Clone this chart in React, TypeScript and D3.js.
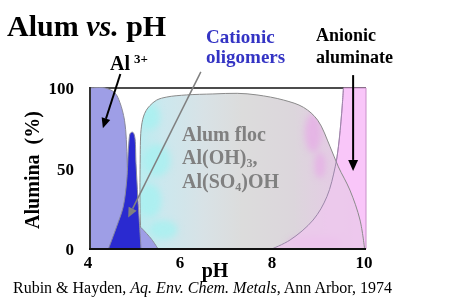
import React from "react";
import * as d3 from "d3";

// ---- data (pH, % alumina) ----
const al3Edge: [number, number][] = [
  [4.0, 100], [4.33, 100], [4.54, 97], [4.65, 91], [4.75, 80], [4.79, 68],
  [4.81, 53], [4.83, 37], [4.87, 24], [4.98, 17], [5.12, 13], [5.34, 6], [5.48, 0],
];
const cationicEdge: [number, number][] = [
  [4.40, 0], [4.58, 14], [4.72, 26], [4.80, 43], [4.84, 64], [4.88, 72],
  [4.93, 72.5], [4.97, 70], [5.0, 53], [5.04, 32], [5.07, 18], [5.11, 0],
];
const flocEdge: [number, number][] = [
  [5.13, 0], [5.11, 8], [5.09, 22], [5.09, 53], [5.11, 74], [5.16, 82],
  [5.22, 86], [5.30, 89], [5.45, 92.5], [5.67, 94.4], [6.10, 95.7],
  [6.67, 96.3], [7.20, 96.7], [7.63, 95.7], [8.21, 92.5], [8.64, 88],
  [8.95, 80], [9.22, 63.5], [9.40, 51], [9.65, 36.6], [9.87, 18], [9.97, 0],
];
const anionicEdge: [number, number][] = [
  [7.95, 0], [8.35, 5.6], [8.85, 18], [9.15, 32.5], [9.33, 51], [9.40, 63.5],
  [9.47, 84], [9.51, 100],
];
// texture blobs inside the floc: [pH, pct, rx(pH), ry(pct)]
const cyanBlobs = [[5.3, 82, 0.22, 8], [5.45, 55, 0.3, 10], [5.3, 30, 0.25, 10], [5.6, 12, 0.3, 6]];
const pinkBlobs = [[8.85, 72, 0.18, 12], [9.0, 52, 0.12, 8], [8.9, 4, 0.6, 4]];
const xTicks = [4, 6, 8, 10];
const yTicks = [0, 50, 100];
// annotation arrows: [fromPH, fromPct, toPH, toPct]
const arrowAl3 = [4.66, 108.7, 4.28, 75];
const arrowCat = [6.41, 110, 4.83, 19.5];
const arrowAn = [9.72, 108, 9.72, 48.5];

const W = 474, H = 305;
const x = d3.scaleLinear().domain([4, 10]).range([90, 366]);
const y = d3.scaleLinear().domain([0, 100]).range([249, 88]);
const FONT = "'Liberation Serif', 'Times New Roman', serif";

const curve = d3.line<[number, number]>()
  .x(d => x(d[0])).y(d => y(d[1]))
  .curve(d3.curveCatmullRom.alpha(0.5));

function closedPath(edge: [number, number][], extra: [number, number][]) {
  let p = curve(edge) || "";
  extra.forEach(e => { p += `L${x(e[0])},${y(e[1])}`; });
  return p + "Z";
}

function Arrow({ a, color, w, head }: { a: number[]; color: string; w: number; head: number }) {
  const x1 = x(a[0]), y1 = y(a[1]), x2 = x(a[2]), y2 = y(a[3]);
  const ang = Math.atan2(y2 - y1, x2 - x1);
  const bx = x2 - head * Math.cos(ang), by = y2 - head * Math.sin(ang);
  const hw = head * 0.45;
  const px = -Math.sin(ang) * hw, py = Math.cos(ang) * hw;
  return (
    <g>
      <line x1={x1} y1={y1} x2={bx} y2={by} stroke={color} strokeWidth={w} />
      <path d={`M${x2},${y2}L${bx + px},${by + py}L${bx - px},${by - py}Z`} fill={color} />
    </g>
  );
}

export default function App() {
  const al3 = closedPath(al3Edge, [[4, 0]]);
  const cat = closedPath(cationicEdge, []);
  const floc = closedPath(flocEdge, []);
  const anion = closedPath(anionicEdge, [[10, 100], [10, 0]]);
  const kx = x(1) - x(0), ky = y(0) - y(1);
  return (
    <svg width={W} height={H} style={{ position: "absolute", left: 0, top: 0, background: "#fff" }}
      fontFamily={FONT}>
      <defs>
        <linearGradient id="flocGrad" gradientUnits="userSpaceOnUse" x1={x(5.1)} y1={0} x2={x(10)} y2={0}>
          <stop offset="0" stopColor="#bcecf0" />
          <stop offset="0.1" stopColor="#cce8ee" />
          <stop offset="0.28" stopColor="#d8e2e6" />
          <stop offset="0.45" stopColor="#dcdcdc" />
          <stop offset="0.68" stopColor="#dcd6dc" />
          <stop offset="0.85" stopColor="#e4cce4" />
          <stop offset="1" stopColor="#eac6ea" />
        </linearGradient>
        <clipPath id="flocClip"><path d={floc} /></clipPath>
        <filter id="blur" x="-50%" y="-50%" width="200%" height="200%">
          <feGaussianBlur stdDeviation="3" />
        </filter>
      </defs>
      {/* top frame line */}
      <line x1={x(4)} x2={x(10)} y1={y(100)} y2={y(100)} stroke="#111" strokeWidth={1.5} />
      {/* anionic aluminate */}
      <path d={anion} fill="#f9c6f9" stroke="#c890c8" strokeWidth={1} />
      {/* alum floc */}
      <path d={floc} fill="url(#flocGrad)" />
      <g clipPath="url(#flocClip)">
        <g filter="url(#blur)">
          {cyanBlobs.map((b, i) => (
            <ellipse key={"c" + i} cx={x(b[0])} cy={y(b[1])} rx={b[2] * kx} ry={b[3] * ky} fill="#a8f0f0" opacity={0.8} />
          ))}
          {pinkBlobs.map((b, i) => (
            <ellipse key={"p" + i} cx={x(b[0])} cy={y(b[1])} rx={b[2] * kx} ry={b[3] * ky} fill="#e6aee6" opacity={0.8} />
          ))}
        </g>
        <path d={anion} fill="#eec8ee" opacity={0.8} />
      </g>
      <path d={floc} fill="none" stroke="#8a8a8a" strokeWidth={1} />
      <path d={curve(anionicEdge) || ""} fill="none" stroke="#9a86a8" strokeWidth={1} />
      {/* Al3+ */}
      <path d={al3} fill="#9e9ee6" stroke="#8a8a9a" strokeWidth={1} />
      {/* cationic oligomers */}
      <path d={cat} fill="#2a2ad0" stroke="#8888a0" strokeWidth={1} />
      {/* axes */}
      <line x1={x(4)} x2={x(4)} y1={y(100) - 1} y2={y(0) + 1} stroke="#333" strokeWidth={2} />
      <line x1={x(4) - 1} x2={x(10)} y1={y(0)} y2={y(0)} stroke="#111" strokeWidth={2} />
      {yTicks.map(t => (
        <text key={t} x={74} y={y(t) + 6} textAnchor="end" fontSize={17} fontWeight="bold">{t}</text>
      ))}
      {xTicks.map(t => (
        <text key={t} x={x(t) - 2} y={268} textAnchor="middle" fontSize={17} fontWeight="bold">{t}</text>
      ))}
      <text x={215} y={277} textAnchor="middle" fontSize={20} fontWeight="bold">pH</text>
      <text transform={`translate(39,170) rotate(-90)`} textAnchor="middle" fontSize={20} fontWeight="bold"
        style={{ whiteSpace: "pre" }}>{"Alumina  (%)"}</text>
      {/* arrows */}
      <Arrow a={arrowAl3} color="#000" w={2} head={10} />
      <Arrow a={arrowCat} color="#808080" w={1.5} head={10} />
      <Arrow a={arrowAn} color="#000" w={2} head={11} />
      {/* labels */}
      <text x={7} y={36} fontSize={30} fontWeight="bold">Alum <tspan fontStyle="italic">vs.</tspan> pH</text>
      <text x={110} y={70} fontSize={20} fontWeight="bold">Al<tspan dx={4} dy={-7} fontSize={13}>3+</tspan></text>
      <text x={206} y={43} fontSize={19} fontWeight="bold" fill="#3434c4">Cationic</text>
      <text x={206} y={63} fontSize={19} fontWeight="bold" fill="#3434c4">oligomers</text>
      <text x={316} y={41} fontSize={18} fontWeight="bold">Anionic</text>
      <text x={316} y={63} fontSize={18} fontWeight="bold">aluminate</text>
      <g fill="#808080" fontSize={20} fontWeight="bold">
        <text x={182} y={141}>Alum floc</text>
        <text x={182} y={164}>Al(OH)<tspan fontSize={12} dy={3}>3</tspan><tspan dy={-3}>,</tspan></text>
        <text x={182} y={188}>Al(SO<tspan fontSize={12} dy={3}>4</tspan><tspan dy={-3}>)OH</tspan></text>
      </g>
      <text x={13} y={293} fontSize={16}>
        Rubin &amp; Hayden, <tspan fontStyle="italic">Aq. Env. Chem. Metals</tspan>, Ann Arbor, 1974
      </text>
    </svg>
  );
}
